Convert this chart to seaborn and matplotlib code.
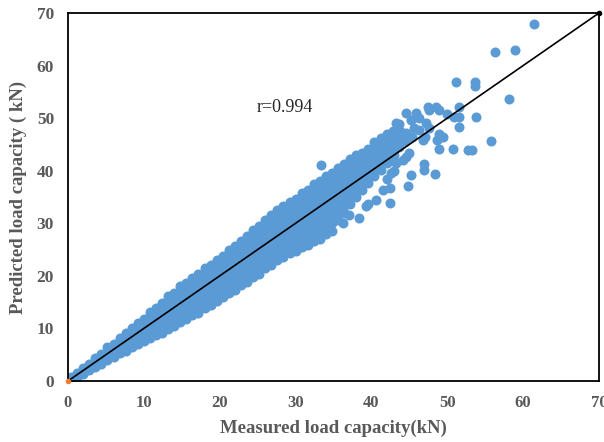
import matplotlib
matplotlib.use("Agg")
import matplotlib.pyplot as plt
import seaborn as sns
import pandas as pd

# ---- data (measured, [predicted values]) ----
band_a = [
    (0.4, [0.3, 0.7]),
    (1.2, [0.8, 1.6]),
    (2.0, [1.4, 2.5]),
    (2.8, [2.1, 3.3]),
    (3.6, [2.7, 3.6, 4.4]),
    (4.4, [3.3, 4.4, 5.2]),
    (5.2, [4.0, 5.2, 6.4]),
    (6.0, [4.6, 5.9, 7.1]),
    (6.8, [5.3, 6.7, 8.2]),
    (7.6, [5.8, 7.2, 8.5, 9.2]),
    (8.4, [6.5, 7.8, 9.0, 10.0]),
    (9.2, [7.0, 8.4, 9.7, 11.1]),
    (10.0, [7.7, 9.1, 10.5, 11.8]),
    (10.8, [8.1, 9.5, 10.8, 12.0, 13.1]),
    (11.6, [8.8, 10.1, 11.4, 12.7, 13.8]),
    (12.4, [9.2, 10.6, 12.0, 13.4, 14.9]),
]
band_b = [
    (13.2, [9.9, 11.3, 12.7, 14.1, 15.4, 16.1]),
    (14.0, [10.5, 11.9, 13.2, 14.5, 15.8, 16.8]),
    (14.8, [11.3, 12.6, 14.0, 15.3, 16.6, 18.0]),
    (15.6, [11.8, 13.3, 14.7, 16.0, 17.4, 18.6]),
    (16.4, [12.6, 13.9, 15.3, 16.7, 18.1, 19.6]),
    (17.2, [13.0, 14.5, 15.9, 17.3, 18.7, 20.0, 20.4]),
    (18.0, [13.9, 15.2, 16.6, 18.0, 19.4, 20.7, 21.4]),
    (18.8, [14.4, 15.9, 17.3, 18.7, 20.1, 21.5, 22.1]),
    (19.6, [15.3, 16.6, 18.0, 19.4, 20.8, 22.1, 23.1]),
    (20.4, [15.9, 17.4, 18.8, 20.2, 21.6, 23.0, 23.8]),
    (21.2, [16.8, 18.1, 19.5, 20.9, 22.3, 23.7, 24.9]),
    (22.0, [17.3, 18.8, 20.2, 21.6, 23.0, 24.4, 25.6]),
    (22.8, [18.2, 19.5, 20.9, 22.3, 23.7, 25.1, 26.6]),
    (23.6, [18.8, 20.2, 21.6, 23.0, 24.4, 25.8, 27.2, 27.6]),
    (24.4, [19.8, 21.0, 22.4, 23.8, 25.2, 26.6, 28.0, 28.7]),
]
band_c = [
    (25.2, [20.4, 21.9, 23.3, 24.7, 26.1, 27.5, 28.9, 29.5]),
    (26.0, [21.5, 22.8, 24.2, 25.6, 27.0, 28.4, 29.8, 30.7]),
    (26.8, [22.1, 23.6, 25.0, 26.4, 27.8, 29.2, 30.6, 31.5]),
    (27.6, [23.1, 24.4, 25.8, 27.2, 28.6, 30.0, 31.4, 32.6]),
    (28.4, [23.6, 25.1, 26.5, 27.9, 29.3, 30.7, 32.1, 33.2]),
    (29.2, [24.3, 25.6, 27.0, 28.4, 29.8, 31.2, 32.6, 34.1]),
    (30.0, [24.7, 26.2, 27.6, 29.0, 30.4, 31.8, 33.2, 34.7]),
    (30.8, [25.5, 26.8, 28.2, 29.6, 31.0, 32.4, 33.8, 35.2, 35.8]),
    (31.6, [25.9, 27.4, 28.8, 30.2, 31.6, 33.0, 34.4, 35.8, 36.4]),
    (32.4, [26.7, 28.0, 29.4, 30.8, 32.2, 33.6, 35.0, 36.4, 37.4]),
    (33.2, [27.1, 28.6, 30.0, 31.4, 32.8, 34.2, 35.6, 37.0, 38.0]),
    (34.0, [28.0, 29.3, 30.7, 32.1, 33.5, 34.9, 36.3, 37.7, 39.0]),
    (34.8, [28.5, 30.0, 31.4, 32.8, 34.2, 35.6, 37.0, 38.4, 39.6]),
]
band_d = [
    (35.6, [30.6, 32.0, 33.4, 34.8, 36.2, 37.6, 39.0, 40.5]),
    (36.4, [31.9, 33.3, 34.7, 36.1, 37.5, 38.9, 40.3, 41.3]),
    (37.2, [33.7, 35.1, 36.5, 37.9, 39.3, 40.7, 42.2]),
    (38.0, [35.0, 36.4, 37.8, 39.2, 40.6, 42.0, 42.9]),
    (38.8, [36.3, 37.7, 39.1, 40.5, 41.9, 43.4]),
    (39.6, [37.6, 39.0, 40.4, 41.8, 43.2, 44.2]),
    (40.4, [38.9, 40.3, 41.7, 43.1, 44.5, 45.4]),
    (41.2, [40.2, 41.6, 43.0, 44.4, 45.8, 46.2]),
    (42.0, [41.4, 42.8, 44.2, 45.6, 46.9]),
    (42.8, [42.2, 43.6, 45.0, 46.4, 47.5]),
]
scatter_measured = [
    33.3, 36.2, 37.1, 38.4, 39.3, 39.6, 40.6, 41.5, 42.4, 42.0, 43.0, 42.5,
    43.3, 42.6, 43.0, 43.7, 43.2, 44.6, 45.2, 45.9, 46.3, 47.2, 47.4, 47.6,
    48.5, 48.9, 47.6, 46.3, 46.8, 47.0, 48.7, 48.9, 49.4, 48.9, 50.0, 50.9,
    51.6, 51.6, 51.6, 53.8, 50.7, 52.7, 53.2, 55.7, 51.1, 53.6, 53.7, 56.3,
    58.9, 58.1, 61.4, 44.1, 44.6, 45.0, 44.8, 45.2, 46.9, 46.9, 48.4, 43.6,
    43.6, 43.8, 44.4, 44.6, 45.3, 45.6,
]
scatter_predicted = [
    41.1, 30.0, 31.6, 31.0, 33.2, 33.6, 34.5, 36.4, 33.8, 38.5, 40.0, 36.8,
    41.5, 39.5, 43.0, 48.8, 49.1, 51.0, 49.7, 51.0, 50.0, 49.1, 52.2, 51.6,
    52.2, 51.6, 48.1, 47.8, 45.9, 46.5, 45.9, 46.9, 46.5, 44.1, 50.7, 50.3,
    50.2, 52.2, 48.4, 50.2, 44.1, 43.9, 43.9, 45.7, 56.8, 56.8, 56.2, 62.5,
    63.0, 53.6, 68.0, 42.1, 42.7, 43.4, 37.0, 39.2, 40.2, 41.3, 39.4, 44.5,
    46.0, 47.6, 45.6, 47.2, 46.4, 48.2,
]
line_x = [0, 70]
line_y = [0, 70]
ticks = [0, 10, 20, 30, 40, 50, 60, 70]
r_text = "r=0.994"

rows = []
for band in (band_a, band_b, band_c, band_d):
    for m, preds in band:
        for p in preds:
            rows.append((m, p))
rows += list(zip(scatter_measured, scatter_predicted))
df = pd.DataFrame(rows, columns=["measured", "predicted"])

sns.set_theme(style="white")
plt.rcParams["font.family"] = ["Liberation Serif", "DejaVu Serif"]

fig = plt.figure(figsize=(6.04, 4.42), dpi=100)
ax = fig.add_axes([68 / 604, 1 - 381 / 442, (599 - 68) / 604, (381 - 13) / 442])

sns.scatterplot(data=df, x="measured", y="predicted", color="#5B9BD5", s=52,
                linewidth=0, ax=ax, legend=False, zorder=2)
sns.lineplot(x=line_x, y=line_y, color="black", linewidth=1.2, ax=ax, zorder=3)
ax.plot(line_x[-1], line_y[-1], "o", ms=3, color="black", clip_on=False, zorder=4)
ax.plot(line_x[0], line_y[0], "o", ms=3, color="#ED7D31", clip_on=False, zorder=4)

ax.set_xlim(0, 70)
ax.set_ylim(0, 70)
ax.set_xticks(ticks)
ax.set_yticks(ticks)
gray = "#595959"
ax.set_xticklabels([str(t) for t in ticks], fontweight="bold", color=gray, fontsize=12)
ax.set_yticklabels([str(t) for t in ticks], fontweight="bold", color=gray, fontsize=12.5)
ax.tick_params(axis="x", direction="out", length=4, width=1.2, color="black", pad=6)
ax.tick_params(axis="y", direction="out", length=5, width=1.2, color="black", pad=5)
for sp in ax.spines.values():
    sp.set_color("black")
    sp.set_linewidth(1.3)
    sp.set_visible(True)

ax.set_xlabel("Measured load capacity(kN)", fontweight="bold", color=gray, fontsize=13.5, labelpad=6)
ax.set_ylabel("Predicted load capacity ( kN)", fontweight="bold", color=gray, fontsize=13.5, labelpad=7)

ax.text(24.9, 51.2, r_text, ha="left", va="baseline", fontsize=13, color="#262626")

fig.savefig("out.png", dpi=100)
